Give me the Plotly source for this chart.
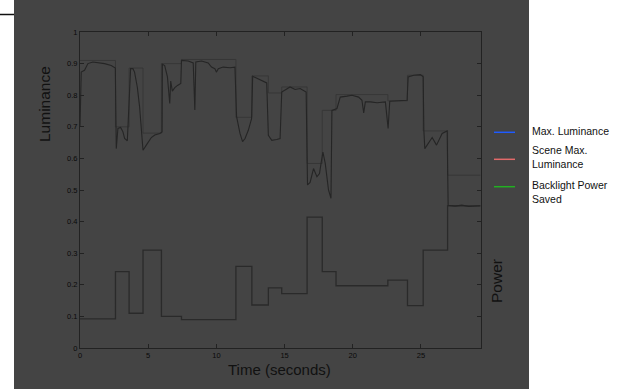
import plotly.graph_objects as go

# ---- data ----
step_times = [0, 2.6, 3.6, 4.62, 5.97, 7.44, 11.43, 12.6, 13.81, 14.79, 16.65,
              17.76, 18.77, 22.57, 24.01, 25.16, 26.95, 29.35]
max_luminance = [0.91, 0.70, 0.886, 0.68, 0.90, 0.913, 0.73, 0.861, 0.807, 0.826,
                 0.584, 0.752, 0.802, 0.782, 0.863, 0.687, 0.547, 0.547]
power_saved = [0.092, 0.242, 0.11, 0.31, 0.10, 0.09, 0.258, 0.136, 0.19, 0.172,
               0.414, 0.242, 0.197, 0.215, 0.134, 0.31, 0.45, 0.45]

scene_times = [0.0, 0.09, 0.33, 0.58, 0.94, 1.31, 1.8, 2.29, 2.59, 2.66, 2.78, 2.98,
               3.15, 3.27, 3.47, 3.71, 3.88, 4.0, 4.2, 4.37, 4.49, 4.62, 4.86, 5.23,
               5.48, 5.85, 6.02, 6.04, 6.21, 6.41, 6.58, 6.65, 6.77, 6.95, 7.15, 7.39,
               7.44, 7.93, 8.3, 8.42, 8.49, 8.91, 9.4, 9.64, 9.89, 10.0, 10.14, 10.5,
               11.0, 11.36, 11.48, 11.73, 11.92, 12.1, 12.34, 12.58, 12.66, 13.08,
               13.44, 13.69, 13.81, 14.06, 14.42, 14.67, 14.79, 15.03, 15.4, 15.77,
               16.14, 16.58, 16.68, 16.87, 17.12, 17.37, 17.56, 17.69, 17.81, 17.98,
               18.22, 18.4, 18.47, 18.84, 19.08, 19.57, 19.94, 20.43, 20.67, 20.8,
               20.92, 21.29, 21.78, 22.39, 22.59, 22.71, 23.25, 23.98, 24.06, 24.47,
               24.96, 25.16, 25.21, 25.28, 25.45, 25.82, 26.14, 26.55, 26.92, 26.99,
               27.5, 28.0, 28.5, 29.35]
scene_max = [0.70, 0.873, 0.879, 0.90, 0.905, 0.903, 0.90, 0.894, 0.886, 0.631, 0.695,
             0.698, 0.684, 0.663, 0.656, 0.884, 0.884, 0.873, 0.826, 0.763, 0.679,
             0.626, 0.642, 0.666, 0.674, 0.679, 0.684, 0.898, 0.894, 0.858, 0.774,
             0.845, 0.813, 0.824, 0.831, 0.837, 0.91, 0.908, 0.902, 0.753, 0.905,
             0.908, 0.902, 0.889, 0.884, 0.873, 0.884, 0.889, 0.887, 0.889, 0.732,
             0.679, 0.653, 0.663, 0.689, 0.726, 0.86, 0.852, 0.845, 0.839, 0.673,
             0.657, 0.66, 0.663, 0.81, 0.816, 0.826, 0.818, 0.821, 0.81, 0.516,
             0.524, 0.568, 0.542, 0.552, 0.589, 0.62, 0.584, 0.50, 0.474, 0.752,
             0.758, 0.794, 0.797, 0.80, 0.794, 0.784, 0.744, 0.779, 0.779, 0.776,
             0.779, 0.695, 0.781, 0.782, 0.784, 0.858, 0.863, 0.865, 0.858, 0.689,
             0.631, 0.642, 0.666, 0.642, 0.679, 0.687, 0.452, 0.449, 0.452, 0.448,
             0.45]

x_ticks = [0, 5, 10, 15, 20, 25]
y_ticks = [0, 0.1, 0.2, 0.3, 0.4, 0.5, 0.6, 0.7, 0.8, 0.9, 1]
y_tick_labels = ["0", "0.1", "0.2", "0.3", "0.4", "0.5", "0.6", "0.7", "0.8", "0.9", "1"]

legend_names = ["Max. Luminance", "Scene Max.<br>Luminance", "Backlight Power<br>Saved"]
legend_colors = ["#1f5bff", "#e26a6a", "#22b022"]

# ---- geometry helpers (pixel -> paper) ----
L, R, T, B = 80, 136, 32, 41
W, H = 617, 389
PW, PH = W - L - R, H - T - B


def px(x):
    return (x - L) / PW


def py(y):
    return (H - B - y) / PH


fig = go.Figure()

fig.add_trace(go.Scatter(x=step_times, y=max_luminance, mode="lines", line_shape="hv",
                         line=dict(color="#353535", width=0.9), showlegend=False))
fig.add_trace(go.Scatter(x=step_times, y=power_saved, mode="lines", line_shape="hv",
                         line=dict(color="#2a2a2a", width=1.3), showlegend=False))
fig.add_trace(go.Scatter(x=scene_times, y=scene_max, mode="lines",
                         line=dict(color="#252525", width=1.1), showlegend=False))

shapes = [
    dict(type="rect", xref="paper", yref="paper", x0=px(14), x1=px(529), y0=py(389), y1=py(0),
         fillcolor="#444444", line=dict(width=0), layer="below"),
    dict(type="line", xref="paper", yref="paper", x0=px(0), x1=px(14), y0=py(14.5), y1=py(14.5),
         line=dict(color="#111111", width=1.5)),
]
annotations = [
    dict(text="Luminance", xref="paper", yref="paper", x=px(44), y=py(104), textangle=-90,
         showarrow=False, font=dict(size=15.5, color="#111111"), xanchor="center", yanchor="middle"),
    dict(text="Power", xref="paper", yref="paper", x=px(496.5), y=py(281.5), textangle=-90,
         showarrow=False, font=dict(size=15.5, color="#111111"), xanchor="center", yanchor="middle"),
    dict(text="Time (seconds)", xref="paper", yref="paper", x=px(279.5), y=py(369.5),
         showarrow=False, font=dict(size=15, color="#111111"), xanchor="center", yanchor="middle"),
]

sample_y = [132.3, 159.3, 186.7]
text_y = [130.7, 156.5, 191.5]
for name, col, sy, ty in zip(legend_names, legend_colors, sample_y, text_y):
    shapes.append(dict(type="line", xref="paper", yref="paper", x0=px(494), x1=px(515),
                       y0=py(sy), y1=py(sy), line=dict(color=col, width=1.5)))
    annotations.append(dict(text=name, xref="paper", yref="paper", x=px(529.5), y=py(ty),
                            showarrow=False, xanchor="left", yanchor="middle", align="left",
                            font=dict(size=10.5, color="#111111")))

fig.update_layout(
    width=W, height=H,
    margin=dict(l=L, r=R, t=T, b=B, pad=0),
    paper_bgcolor="white",
    plot_bgcolor="rgba(0,0,0,0)",
    font=dict(family="Liberation Sans, Arial, sans-serif", color="#111111"),
    shapes=shapes,
    annotations=annotations,
    showlegend=False,
)
fig.update_xaxes(range=[0, 29.4], tickvals=x_ticks, ticktext=[str(v) for v in x_ticks],
                 ticks="inside", ticklen=4, tickcolor="#222222", tickwidth=1,
                 showline=True, linecolor="#222222", linewidth=1, mirror="ticks",
                 showgrid=False, zeroline=False, tickfont=dict(size=7.5, color="#0a0a0a"))
fig.update_yaxes(range=[0, 1], tickvals=y_ticks, ticktext=y_tick_labels,
                 ticks="inside", ticklen=4, tickcolor="#222222", tickwidth=1,
                 showline=True, linecolor="#222222", linewidth=1, mirror="ticks",
                 showgrid=False, zeroline=False, tickfont=dict(size=7.5, color="#0a0a0a"))

fig.write_html("out.html", config={"displayModeBar": False},
               post_script="document.body.style.margin='0';document.body.style.overflow='hidden';")
